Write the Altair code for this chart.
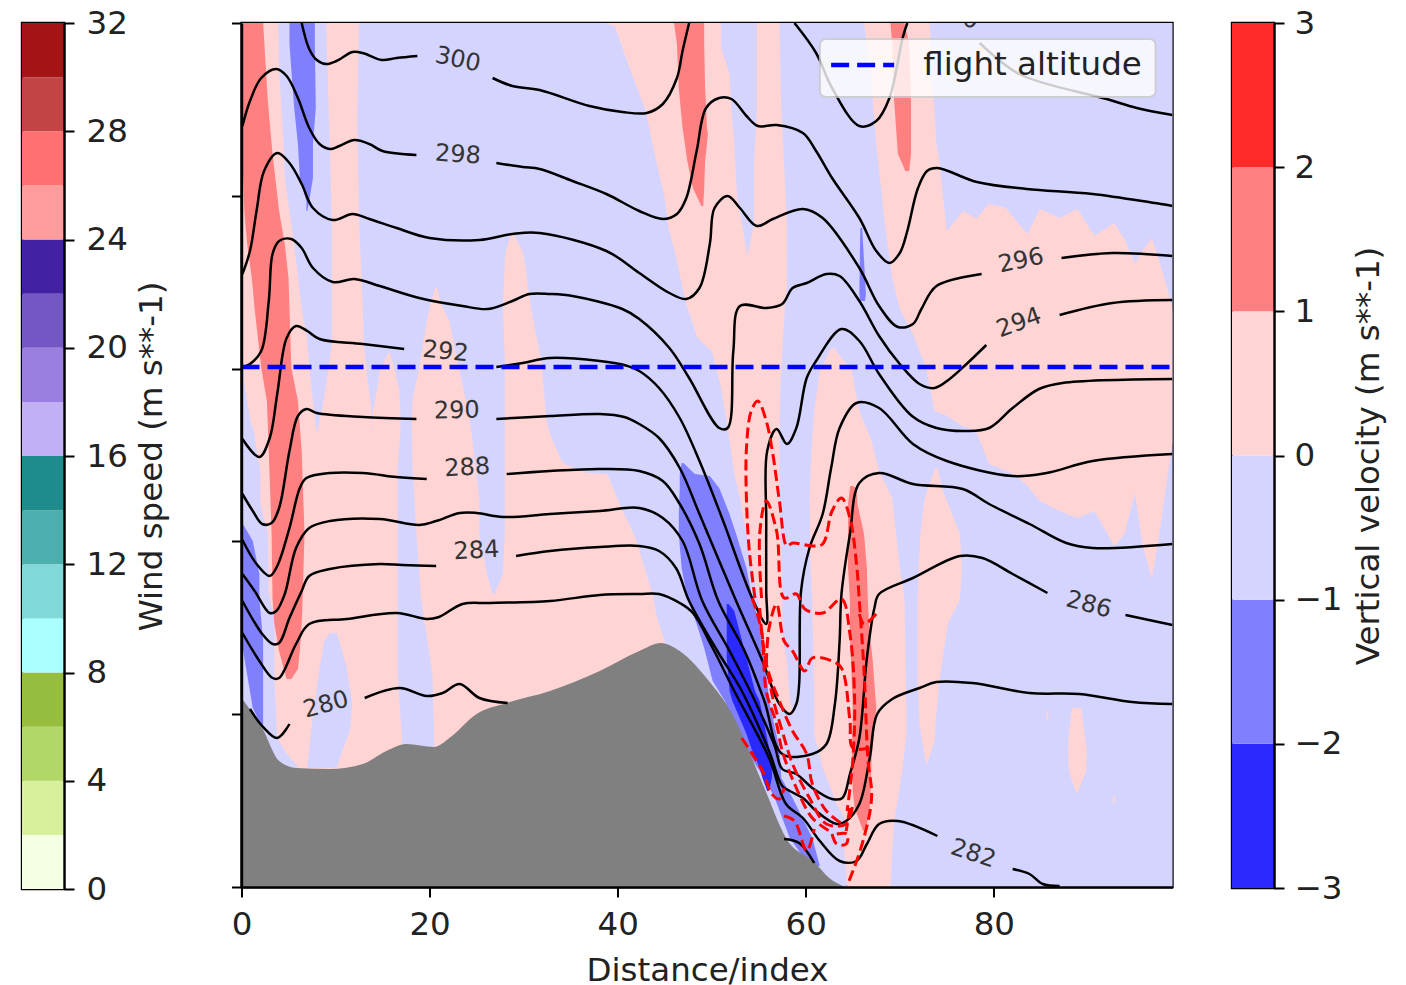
import altair as alt
import pandas as pd

FONT = "DejaVu Sans"
LAV, PINK, BLUE, RED, DEEP = "#d4d4ff", "#ffd4d4", "#8080ff", "#ff8080", "#2a2aff"

# ---- colour bars
wind_levels = [0, 2, 4, 6, 8, 10, 12, 14, 16, 18, 20, 22, 24, 26, 28, 30, 32]
wind_colors = ["#f5ffe3", "#d7f09b", "#b3d766", "#97bd3f", "#aaffff", "#80d8d8", "#4daeae", "#1e8c8c",
               "#c2b0f5", "#9b7fe0", "#7357c5", "#4222a3", "#ff9c9c", "#ff7070", "#c24444", "#a31414"]
vel_levels = [-3, -2, -1, 0, 1, 2, 3]
vel_colors = [DEEP, BLUE, LAV, PINK, RED, "#ff2a2a"]

# ---- filled velocity regions: height, left index, right index
A_pink = ([864, 819, 736, 709, 643, 578, 553, 503, 486, 469, 453],
          [.1, .1, .1, .1, .1, .1, .1, .3, .6, .9, 1.4],
          [3.9, 4, 4.5, 4.6, 5.6, 6.4, 6.9, 7.4, 7.6, 7.8, 8])
Body_pink = ([453, 429, 423, 414, 413, 383, 353, 346, 293, 269, 246, 209, 149, 136, 120, 0],
             [1.4, 1.7, 1.9, 2, 2, 2, 2.8, 2.8, 2.9, 3.5, 3.5, 3.5, 3.8, 4.6, 6, 6],
             [32.8, 33.9, 34.3, 36.7, 38.9, 40.2, 41.7, 42, 43.7, 44.2, 45, 45.2, 45.2, 45.2, 45.2, 45.2])
S2_pink = ([864, 766, 669, 578, 543, 509, 479, 453],
           [9, 9.3, 9.6, 9.6, 9.6, 9.1, 8.6, 8],
           [12.5, 12.3, 12.5, 12.9, 13, 13.4, 13.8, 13.9])
S3_pink = ([534, 516, 496, 473, 453], [15.6, 14.7, 14.4, 13.9, 13.9], [15.8, 16.3, 16.8, 16.9, 16.9])
S4_pink = ([599, 583, 566, 519, 489, 469, 453], [20.6, 20.1, 19.7, 18.9, 18.2, 18.1, 18.1],
           [20.8, 21.2, 22.1, 23.1, 23.8, 24.2, 24.5])
S5_pink = ([653, 636, 626, 578, 526, 469, 453], [28.7, 28.1, 28, 27.8, 28, 28, 28],
           [28.9, 29.9, 30.1, 30.8, 31.9, 32.4, 32.8])
L1_lav = ([453, 419, 353, 288, 213, 143, 116], [16.9, 16.6, 16.6, 16.6, 16.6, 17.1, 17.1],
          [18.1, 18.2, 18.6, 19.1, 20.3, 20.5, 20.7])
L2_lav = ([453, 443, 386, 353, 313, 293], [24.5, 24.6, 25.3, 25.3, 26.1, 26.7], [28, 28, 28, 28, 27.8, 26.9])
L3_lav = ([254, 246, 219, 199, 183, 156, 119], [9.4, 8.8, 8.3, 8, 7.8, 7.4, 7], [10.1, 10.4, 11.2, 11.5, 11.8, 11.5, 10.1])
C1_up = ([864, 861, 839, 813, 776, 743, 726, 689, 659, 631],
         [38.6, 39.7, 40.5, 41.5, 43, 43.7, 44.1, 45, 45.4, 46.2],
         [51, 51, 51, 51.9, 52.1, 52.4, 52.5, 52.7, 53.3, 53.8])
Stripe_up = ([864, 776, 723, 663, 631], [54.8, 54.8, 54.5, 54.5, 53.8], [57.2, 57.4, 57.7, 58, 58])
C1_low = ([631, 599, 583, 549, 536, 499, 453, 413, 389, 336, 279, 246, 226, 186, 173],
          [46.2, 46.9, 47.3, 48.5, 50, 51, 51.8, 52.4, 53, 54, 55.1, 55.4, 55.6, 56.4, 58.3],
          [58, 58, 57.8, 57.6, 57.5, 57.3, 57.2, 57.2, 57.2, 57.4, 57.5, 57.6, 58, 58.3, 58.8])
C3_pink = ([539, 516, 476, 446, 416, 389, 319, 288, 179, 153, 119, 83, 66, 36, 0],
           [62.7, 61.5, 60.9, 60.7, 60.5, 60.4, 60.5, 60.7, 60.9, 60.9, 61.8, 63.3, 64.3, 64.1, 64.4],
           [63, 64.9, 65.7, 67, 67.8, 69.2, 70, 70.5, 70.7, 70.7, 70.3, 69.7, 69.4, 69.2, 69])
S_right = ([419, 399, 386, 353, 319, 288, 263, 206, 163, 146, 123],
           [73.8, 73, 72.6, 72.2, 72, 71.9, 71.9, 71.9, 72.1, 72.4, 72.8],
           [74, 74.5, 75, 76.4, 76.6, 76.4, 75.1, 74.2, 73.8, 73.7, 72.9])
T_a = ([864, 809, 776, 743, 726, 656, 643, 609, 578, 553, 519, 476, 471],
       [66.2, 67, 67.2, 67.5, 67.7, 68.5, 68.7, 69.2, 70, 71.4, 72.8, 73.7, 75.1],
       [73.2, 73.4, 73.7, 73.9, 74.2, 75, 75.3, 75.3, 75.3, 75.3, 75.3, 75.3, 75.3])
Blob = ([179, 156, 136, 116, 101, 94], [88.3, 88, 87.9, 88, 88.5, 88.8], [89.3, 89.6, 89.9, 89.8, 89.2, 88.9])
Tiny1 = ([176, 168], [85.6, 85.6], [85.8, 85.8])
Tiny2 = ([91, 84], [92.7, 92.7], [92.9, 92.9])
R1_red = ([864, 786, 733, 676, 643, 609, 578, 519, 486, 436, 353, 288, 263, 236, 218, 208],
          [.1, .1, .1, .3, .6, 1.1, 1.4, 2.1, 2.7, 2.9, 3.2, 3.3, 3.5, 4, 4.5, 4.8],
          [2.3, 2.8, 3.3, 4, 4.6, 5, 5.1, 5.3, 6, 6.4, 6.7, 6.5, 6.4, 6.2, 6, 5.3])
R2_red = ([864, 843, 799, 759, 753, 726, 699, 681], [46, 46.3, 46.5, 46.9, 47, 47.4, 48, 48.9],
          [49.2, 49.2, 49.3, 49.5, 49.6, 49.3, 49.2, 49.1])
R3_red = ([864, 843, 786, 733, 716], [69, 69.2, 69.4, 69.8, 70.6], [70.5, 71, 71.2, 71.2, 71])
R4_red = ([401, 399, 383, 353, 319, 286, 253, 229, 179, 129, 96, 79, 56],
          [64.7, 64.7, 64.5, 64.5, 64.5, 64.7, 64.7, 64.8, 65, 64.9, 65, 65.2, 66.1],
          [65, 65.4, 65.5, 66.2, 66.5, 66.6, 66.8, 67.1, 67.5, 67, 66.9, 66.8, 66.4])
B1_blue = ([364, 346, 313, 288, 246, 229, 179, 159], [0, 0, 0, 0, 0, .3, 1.2, 2.2], [.1, 1.2, 1.9, 1.9, 2.3, 2.3, 2.3, 2.3])
B2_blue = ([864, 843, 779, 743, 709, 686, 676], [5.1, 5.1, 5.6, 6, 6.2, 6.9, 6.9], [7.8, 7.8, 7.9, 7.6, 7.6, 7.2, 7])
B3_blue = ([659, 593, 586], [65.8, 65.7, 65.8], [66, 66.4, 66.3])
B4_blue = ([424, 413, 411, 399, 373, 353, 319, 289, 263, 239, 206, 186, 139, 109, 89, 49, 21],
           [46.8, 46.6, 46.6, 46.6, 46.5, 46.5, 46.8, 47.4, 48.4, 49.2, 50.1, 51.4, 53.5, 55.6, 56.7, 58.3, 60.4],
           [47, 48.2, 49.8, 50.8, 51.9, 52.6, 53.7, 54.3, 55.1, 55.3, 55.9, 56.1, 57.2, 57.4, 58.6, 60.7, 61.5])
D_deep = ([283, 276, 229, 196, 186, 153, 139, 119, 109, 96],
          [51.6, 51.6, 51.6, 51.9, 52.2, 53.7, 54.2, 55.1, 55.4, 55.9],
          [51.8, 52.4, 53.7, 54.6, 55.1, 55.8, 56.1, 56.4, 56.4, 56.1])
# jagged region, read column by column: index, upper height, lower height
Tb_x = [75, 76.7, 77.6, 78.2, 79.5, 81.3, 82.4, 83.6, 84.9, 87, 88.9, 90.7, 92.8, 93.9, 95, 95.8, 96.8, 97.6, 98.9, 99]
Tb_top = [656, 676, 671, 669, 683, 679, 666, 653, 678, 669, 678, 651, 664, 648, 623, 636, 649, 626, 583, 575]
Tb_bot = [471, 461, 458, 454, 423, 416, 411, 401, 386, 376, 369, 376, 341, 353, 394, 343, 308, 353, 439, 445]

REGIONS = [(A_pink, PINK), (Body_pink, PINK), (S2_pink, PINK), (S3_pink, PINK), (S4_pink, PINK), (S5_pink, PINK),
           (L1_lav, LAV), (L2_lav, LAV), (L3_lav, LAV), (C1_up, PINK), (Stripe_up, PINK), (C1_low, PINK),
           (C3_pink, PINK), (S_right, PINK), (T_a, PINK), (Blob, PINK), (Tiny1, PINK), (Tiny2, PINK),
           (R1_red, RED), (R2_red, RED), (R3_red, RED), (R4_red, RED),
           (B1_blue, BLUE), (B2_blue, BLUE), (B3_blue, BLUE), (B4_blue, BLUE), (D_deep, DEEP)]

# ---- terrain
ter_x = [0, 2.2, 4, 5.8, 9.4, 12.9, 15.4, 17.5, 20.5, 22.1, 25, 28.2, 32.8, 38.1, 42.3, 44.6, 46.6, 49.7, 52, 55.6, 57.9, 61, 62.5, 64.2]
ter_h = [189, 159, 126, 119, 118, 123, 136, 143, 140, 149, 173, 184, 196, 216, 236, 244, 236, 206, 176, 99, 49, 24, 9, 0]

# ---- potential temperature contours
BLACK = [
 ([6.4, 7.2, 8, 9, 10.1, 11.8, 12.9, 14.9, 16.5, 18.7], [864, 838, 827, 823, 826, 835, 834, 827, 829, 831]),
 ([26.7, 28.8, 31.7, 37, 40.5, 43.1, 44.8, 46.3, 46.9, 47.6], [809, 801, 797, 781, 775, 774, 783, 809, 836, 864]),
 ([58.8, 61.1, 62.8, 65.7, 67.5, 68.9, 70.3, 70.8], [864, 834, 799, 761, 766, 789, 849, 864]),
 ([78.5, 82.7, 92, 95.2, 99], [844, 813, 788, 779, 772]),
 ([.1, .9, 2.1, 3.7, 4.8, 6, 7.2, 8.3, 9.4, 10.4, 12, 13.6, 15, 18.6],
  [761, 786, 809, 818, 811, 789, 759, 743, 738, 741, 747, 743, 736, 732]),
 ([27.1, 29.9, 31.7, 35.2, 38.8, 42.3, 44.8, 46.3, 47.3, 48.4, 49.4, 50.8, 52.1, 53.7, 54.9, 56.9, 59.7, 61.1, 62.8, 65.7, 67.5, 68.9, 70, 70.8, 71.9, 72.9, 74, 78.2, 83.5, 90.5, 99],
  [724, 720, 718, 706, 693, 676, 668, 673, 689, 736, 779, 789, 788, 771, 761, 762, 754, 736, 709, 669, 636, 624, 634, 656, 698, 716, 719, 705, 698, 693, 681]),
 ([.1, .9, 1.6, 2.4, 3.8, 5.1, 6.4, 7.6, 9.7, 11.8, 13.6, 16.5, 20, 25.3, 28.8, 31.7, 38.8, 42.3, 45.5, 47.3, 48.7, 49.8, 50.3, 51.7, 53, 54.8, 56.5, 59.7, 61.8, 65.7, 67.8, 69.8, 71.4, 72.3, 73.9, 78.7],
  [613, 636, 676, 716, 734, 724, 703, 679, 667, 673, 668, 659, 649, 647, 653, 654, 636, 614, 594, 588, 599, 643, 679, 691, 679, 661, 668, 678, 669, 619, 581, 560, 563, 578, 601, 613]),
 ([87.2, 92.6, 99], [629, 634, 631]),
 ([.1, .9, 2.1, 2.9, 3.3, 4, 5.3, 6.4, 7.6, 9.7, 12, 14.7, 18.9, 23.5, 26.2, 28.8, 30.6, 32.8, 35.2, 40.5, 42.3, 45.5, 47.6, 50.8, 51.7, 52.3, 53, 55.8, 57.5, 58.6, 60.1, 62.2, 63.6, 65.7, 67.8, 70, 72.1, 73.7, 75.3, 77.1, 79.2],
  [520, 523, 536, 586, 633, 646, 648, 639, 619, 605, 608, 601, 589, 581, 578, 586, 593, 593, 591, 578, 568, 539, 509, 459, 459, 536, 581, 579, 583, 599, 604, 613, 611, 586, 551, 523, 503, 499, 508, 523, 542]),
 ([87, 92.6, 99], [572, 584, 587]),
 ([.1, 1.9, 3, 3.8, 4.8, 5.8, 7, 8.3, 12.9, 17.3], [448, 430, 449, 493, 549, 561, 556, 548, 543, 538]),
 ([27.1, 29.9, 32.8, 38.1, 40.7, 42.3, 44.4, 46.6, 48.7, 51.1, 54.3, 55.8, 55.8, 55.8, 55.9, 56.9, 58, 59, 60.1, 61.1, 63.8, 65.7, 67.8, 71.3, 73.9, 77.1, 79.5, 82, 84.8, 87.3, 99],
  [520, 524, 529, 526, 522, 516, 499, 469, 426, 369, 289, 263, 296, 366, 436, 458, 443, 459, 509, 526, 558, 546, 513, 471, 459, 456, 459, 479, 498, 504, 508]),
 ([.1, 1.2, 2.2, 3.2, 4, 5.1, 6, 6.9, 8, 12.9, 18.6], [393, 376, 363, 364, 379, 436, 471, 478, 474, 470, 468]),
 ([27.1, 32.8, 38.1, 40.7, 42.3, 44.4, 46.6, 48.7, 52.6, 55.4, 57.2, 58.3, 59, 59.3, 59.5, 60.4, 61.8, 62.7, 63.6, 65.4, 67.8, 71.4, 75, 82, 85.6, 90.5, 99],
  [468, 471, 473, 470, 463, 449, 419, 373, 286, 226, 183, 173, 183, 203, 296, 339, 373, 419, 459, 484, 479, 443, 426, 411, 414, 426, 433]),
 ([.1, 1.6, 3, 3.8, 5.1, 6.2, 6.9, 9.4, 12.9, 16.5, 19.7], [347, 323, 311, 321, 359, 399, 409, 414, 414, 410, 408]),
 ([28.2, 32.8, 38.1, 42.3, 44.8, 46.6, 48.7, 50.7, 53.5, 55.6, 57.5, 60.7, 62.2, 63.1, 63.6, 63.8, 64.7, 65.7, 67.8, 71.4, 76.7, 79.5, 83.8, 87.7, 90.5, 99],
  [413, 416, 418, 416, 406, 383, 343, 286, 236, 186, 133, 133, 143, 183, 246, 293, 353, 404, 414, 403, 398, 383, 363, 344, 339, 343]),
 ([.1, 1.4, 3, 3.7, 4.6, 5.8, 7.2, 9.4, 14.7, 18.9, 20.7, 23.2, 25, 27.8, 32.8, 38.1, 42.3, 44.8, 46.9, 49, 51.9, 54.6, 56.7, 57.5, 59, 60.7, 62.8, 63.9, 64.7, 65.7, 66.5, 67.3, 67.8, 71.4, 76.4, 78.8, 82, 85.7],
  [313, 296, 274, 276, 293, 339, 359, 366, 368, 362, 366, 374, 374, 370, 373, 376, 379, 369, 346, 286, 236, 186, 141, 118, 113, 99, 88, 89, 113, 149, 229, 279, 293, 309, 331, 329, 313, 294]),
 ([94, 99], [272, 262]),
 ([.1, 2.2, 3.3, 4, 5.1, 6.4, 7.2, 9.4, 14.7, 17.1, 20.7], [286, 253, 243, 244, 269, 296, 311, 318, 323, 322, 321]),
 ([29.2, 32.8, 38.1, 42.3, 44.4, 46.2, 47.6, 50.6, 53.2, 56.1, 57.5, 58.3, 59.7, 61.1, 63.3, 64.3, 65.7, 66.8, 67.6, 69.2, 72.1, 73.9, 77.7, 83.8, 89.1, 94.7, 99],
  [331, 336, 340, 341, 336, 319, 286, 236, 196, 136, 101, 96, 89, 76, 63, 66, 83, 129, 173, 188, 199, 205, 204, 194, 193, 185, 183]),
 ([.1, 1.9, 3.3, 4, 5.8, 7.2, 11.2, 16.5, 19.7, 21, 23.5, 26.4, 32.8, 38.1, 42.3, 44.4, 46.6, 48, 50.1, 52.4, 56.1, 57.9, 59.7, 61.5, 63.6, 65.4, 66.5, 67.8, 69.8, 74],
  [254, 226, 209, 209, 243, 263, 268, 274, 268, 270, 283, 284, 286, 292, 293, 293, 284, 274, 239, 196, 129, 83, 69, 46, 26, 26, 43, 63, 66, 51]),
 ([82, 83.8, 85.2, 87], [18, 13, 3, 1]),
 ([.9, 2.2, 3.8, 5.1], [178, 161, 149, 163]),
 ([13.1, 16.8, 19.7, 21.4, 23.2, 25.3, 28.3], [189, 199, 191, 194, 203, 189, 184]),
 ([57.7, 59.3, 60.9], [48, 44, 24]),
]

# ---- wind speed contours
DASHED = [
 ([54.6, 54, 53.7, 53.7, 54.2, 54.9, 55.8, 56.5, 57.2, 58, 58.6, 60.7, 61.8, 62.8, 63.8, 64.7, 65.4, 65.7, 66.2, 66.6, 67, 66, 64.4],
  [289, 336, 386, 439, 476, 486, 466, 433, 386, 341, 344, 341, 343, 376, 389, 369, 323, 286, 216, 129, 89, 43, 1]),
 ([55.3, 55.1, 55.8, 56.9, 57.7, 59, 59.9, 61.8, 63.8, 64.7, 65.2, 65, 64.4],
  [289, 353, 386, 356, 289, 293, 278, 274, 288, 253, 186, 126, 76]),
 ([55.8, 56.1, 56.9, 57.7, 58.6, 59.9, 60.7, 62.8, 63.8, 64.7, 65, 66.8],
  [223, 259, 283, 246, 236, 216, 229, 226, 219, 166, 139, 139]),
 ([55.1, 55.8, 57.2, 58.6, 60.1, 60.7, 62.2, 63.9], [279, 223, 186, 156, 133, 103, 76, 63]),
 ([55.4, 56.5, 57.5, 58.6, 60.4, 62.2, 64.3, 65], [246, 189, 156, 123, 89, 63, 63, 83]),
 ([54.3, 55.3, 55.8, 56.9, 57.5, 59, 60.7, 62.5], [289, 256, 196, 163, 136, 99, 69, 56]),
 ([53.2, 55.4, 56.4, 57.2, 57.7], [149, 116, 93, 88, 99]),
 ([57.7, 58.8, 60.1, 60.9], [71, 66, 36, 58]),
 ([65.7, 66.2, 67.5], [273, 263, 273]),
 ([62.8, 63.3, 64.3, 64.4, 63.3], [53, 43, 43, 53, 53]),
 ([64.7, 64.3], [79, 56]),
]

# ---- contour labels
lab_text = ["300", "298", "296", "294", "292", "290", "288", "284", "286", "282", "280", "300"]
lab_x = [23, 23, 82.9, 82.7, 21.7, 22.9, 24, 25, 90.1, 77.8, 9, 76]
lab_h = [827, 732, 626, 564, 535, 476, 419, 336, 282, 33, 182, 872]
lab_angle = [12, 4, 348, 340, 6, 359, 357, 357, 15, 18, 345, 20]

flight_x = [0, 98.9]
flight_h = [520, 520]
legend_name = ["flight altitude"]
x_ticks = [0, 20, 40, 60, 80]
y_ticks = [0, 172.8, 345.6, 518.4, 691.2, 864]

xscale = alt.Scale(domain=[0, 99], nice=False, zero=False)
yscale = alt.Scale(domain=[0, 864], nice=False, zero=False)
xaxis = alt.Axis(values=x_ticks, tickSize=10, labelPadding=11, titlePadding=14, format="d", zindex=1, labelFlush=False)
yaxis = alt.Axis(values=y_ticks, labels=False, tickSize=10, zindex=1, minExtent=22)
X = lambda f: alt.X(f, type="quantitative", scale=xscale, axis=xaxis, title="Distance/index")
Y = lambda f: alt.Y(f, type="quantitative", scale=yscale, axis=yaxis, title=None)

layers = []
layers.append(alt.Chart(pd.DataFrame({"a": [0], "b": [99], "c": [0], "d": [864]})).mark_rect(color=LAV).encode(
    x=X("a"), x2="b:Q", y=Y("c"), y2="d:Q"))
for (h, a, b), col in REGIONS:
    df = pd.DataFrame({"h": h, "a": a, "b": b})
    layers.append(alt.Chart(df).mark_area(color=col, orient="horizontal", clip=True).encode(
        y=Y("h"), x=X("a"), x2="b:Q"))
layers.append(alt.Chart(pd.DataFrame({"x": Tb_x, "t": Tb_top, "b": Tb_bot})).mark_area(color=PINK, clip=True).encode(
    x=X("x"), y=Y("t"), y2="b:Q"))
layers.append(alt.Chart(pd.DataFrame({"x": ter_x, "h": ter_h, "z": [0] * len(ter_x)})).mark_area(
    color="#808080", clip=True, interpolate="monotone").encode(x=X("x"), y=Y("h"), y2="z:Q"))


def long(segs):
    rows = []
    for s, (xs, hs) in enumerate(segs):
        for i, (x, h) in enumerate(zip(xs, hs)):
            rows.append({"s": s, "i": i, "x": x, "h": h})
    return pd.DataFrame(rows)


layers.append(alt.Chart(long(BLACK)).mark_line(color="black", strokeWidth=2.5, clip=True, interpolate="catmull-rom").encode(
    x=X("x"), y=Y("h"), detail="s:N", order="i:Q"))
layers.append(alt.Chart(long(DASHED)).mark_line(color="red", strokeWidth=3, strokeDash=[11, 5], clip=True, interpolate="catmull-rom").encode(
    x=X("x"), y=Y("h"), detail="s:N", order="i:Q"))
layers.append(alt.Chart(pd.DataFrame({"x": flight_x, "h": flight_h})).mark_line(color="#0000ff", strokeWidth=4.5, strokeDash=[18, 8]).encode(
    x=X("x"), y=Y("h")))
for t, x, h, ang in zip(lab_text, lab_x, lab_h, lab_angle):
    layers.append(alt.Chart(pd.DataFrame({"x": [x], "h": [h], "t": [t]})).mark_text(
        font=FONT, fontSize=24, color="#333333", angle=ang, clip=True).encode(x=X("x"), y=Y("h"), text="t:N"))
layers.append(alt.Chart(pd.DataFrame({"a": [61.5], "b": [97.2], "c": [790], "d": [848]})).mark_rect(
    color="white", opacity=0.8, stroke="#cccccc", strokeWidth=2, cornerRadius=6).encode(
    x=X("a"), x2="b:Q", y=Y("c"), y2="d:Q"))
layers.append(alt.Chart(pd.DataFrame({"x": [62.7, 69.4], "h": [822, 822]})).mark_line(
    color="#0000ff", strokeWidth=4.5, strokeDash=[18, 8]).encode(x=X("x"), y=Y("h")))
layers.append(alt.Chart(pd.DataFrame({"x": [72.5], "h": [822], "t": legend_name})).mark_text(
    font=FONT, fontSize=32.5, color="#222222", align="left", baseline="middle").encode(x=X("x"), y=Y("h"), text="t:N"))
main = alt.layer(*layers).properties(width=931, height=864)


def colorbar(levels, colors, title, ticks, height, label_pad, pad, dom):
    df = pd.DataFrame({"lo": levels[:-1], "hi": levels[1:], "c": colors})
    return alt.Chart(df).mark_rect().encode(
        y=alt.Y("lo:Q", scale=alt.Scale(domain=dom, nice=False, zero=False), title=title,
                axis=alt.Axis(orient="right", values=ticks, tickSize=10, labelPadding=label_pad, titlePadding=pad,
                              titleAngle=270, format="d", zindex=1)),
        y2="hi:Q",
        color=alt.Color("c:N", scale=None),
    ).properties(width=42, height=height)


left = colorbar(wind_levels, wind_colors, "Wind speed (m s**-1)", [0, 4, 8, 12, 16, 20, 24, 28, 32], 866, 12, 41, [0, 32])
right = colorbar(vel_levels, vel_colors, "Vertical velocity (m s**-1)", [-3, -2, -1, 0, 1, 2, 3], 865, 10, 44, [-3, 3])

chart = alt.hconcat(left, main, right, spacing=47.5).properties(
    padding={"left": 12, "top": -3, "right": 0, "bottom": 0}
).configure_view(stroke="black", strokeWidth=2.4).configure_axis(
    labelFont=FONT, titleFont=FONT, labelFontSize=32.5, titleFontSize=32.5, titleFontWeight="normal",
    labelColor="#222222", titleColor="#222222", tickColor="black", tickWidth=2, domainColor="black",
    domainWidth=2.4, grid=False
)

chart.save("out.html", embed_options={"renderer": "svg", "actions": False})
